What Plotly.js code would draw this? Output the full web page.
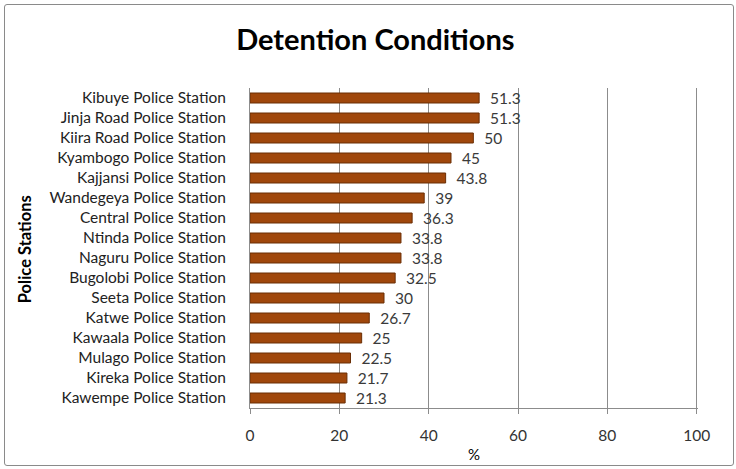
<!DOCTYPE html>
<html>
<head>
<meta charset="utf-8">
<script src="https://cdn.plot.ly/plotly-3.0.1.min.js"></script>
<style>
html,body{margin:0;padding:0;background:#fff;}
#wrap{position:relative;width:736px;height:469px;}
#chart{width:736px;height:469px;}
#frame{position:absolute;left:4px;top:4px;width:728px;height:460px;border:1.5px solid #8a8a8a;border-radius:3px;pointer-events:none;}
</style>
</head>
<body>
<div id="wrap"><div id="chart"></div><div id="frame"></div></div>
<script>
const stations = [
  "Kibuye Police Station",
  "Jinja Road Police Station",
  "Kiira Road Police Station",
  "Kyambogo Police Station",
  "Kajjansi Police Station",
  "Wandegeya Police Station",
  "Central Police Station",
  "Ntinda Police Station",
  "Naguru Police Station",
  "Bugolobi Police Station",
  "Seeta Police Station",
  "Katwe Police Station",
  "Kawaala Police Station",
  "Mulago Police Station",
  "Kireka Police Station",
  "Kawempe Police Station"
];
const percent = [51.3, 51.3, 50, 45, 43.8, 39, 36.3, 33.8, 33.8, 32.5, 30, 26.7, 25, 22.5, 21.7, 21.3];
const xTicks = [0, 20, 40, 60, 80, 100];

const font = "Lato, 'Open Sans', sans-serif";

const trace = {
  type: "bar",
  orientation: "h",
  x: percent,
  y: stations,
  text: percent.map(v => "\u00a0\u00a0" + v),
  textposition: "outside",
  constraintext: "none",
  cliponaxis: false,
  textfont: {family: font, size: 15.5, color: "#3a3a3a"},
  marker: {color: "#A0470B", line: {color: "#6A2E05", width: 1}},
  hoverinfo: "none"
};

const layout = {
  width: 736, height: 469,
  margin: {l: 250, r: 38, t: 88, b: 61},
  paper_bgcolor: "#fff", plot_bgcolor: "#fff",
  showlegend: false,
  bargap: 0.5,
  title: {text: "<b>Detention Conditions</b>", font: {family: font, size: 29, color: "#000"},
          x: 0.51, xanchor: "center", y: 0.915, yanchor: "middle"},
  xaxis: {
    range: [0, 100.3], tickvals: xTicks, ticktext: xTicks.map(String),
    showgrid: true, gridcolor: "#8c8c8c", gridwidth: 1,
    zeroline: false, showline: true, linecolor: "#8c8c8c", linewidth: 1,
    ticks: "outside", ticklen: 5, tickcolor: "#8c8c8c",
    ticklabelstandoff: 8,
    tickfont: {family: font, size: 15.5, color: "#333"},
    title: {text: "%", font: {family: font, size: 15, color: "#000"}, standoff: 6},
    fixedrange: true
  },
  yaxis: {
    autorange: "reversed", type: "category",
    showline: true, linecolor: "#8c8c8c", linewidth: 1,
    ticks: "", showgrid: false, zeroline: false,
    tickfont: {family: font, size: 15.5, color: "#222"},
    ticklabelstandoff: 20,
    fixedrange: true
  },
  annotations: [{
    text: "<b>Police Stations</b>", textangle: -90,
    xref: "paper", yref: "paper", x: -0.503, y: 0.495,
    xanchor: "center", yanchor: "middle", showarrow: false,
    font: {family: font, size: 16.5, color: "#000"}
  }]
};

Plotly.newPlot("chart", [trace], layout, {displayModeBar: false, staticPlot: true});
</script>
</body>
</html>
